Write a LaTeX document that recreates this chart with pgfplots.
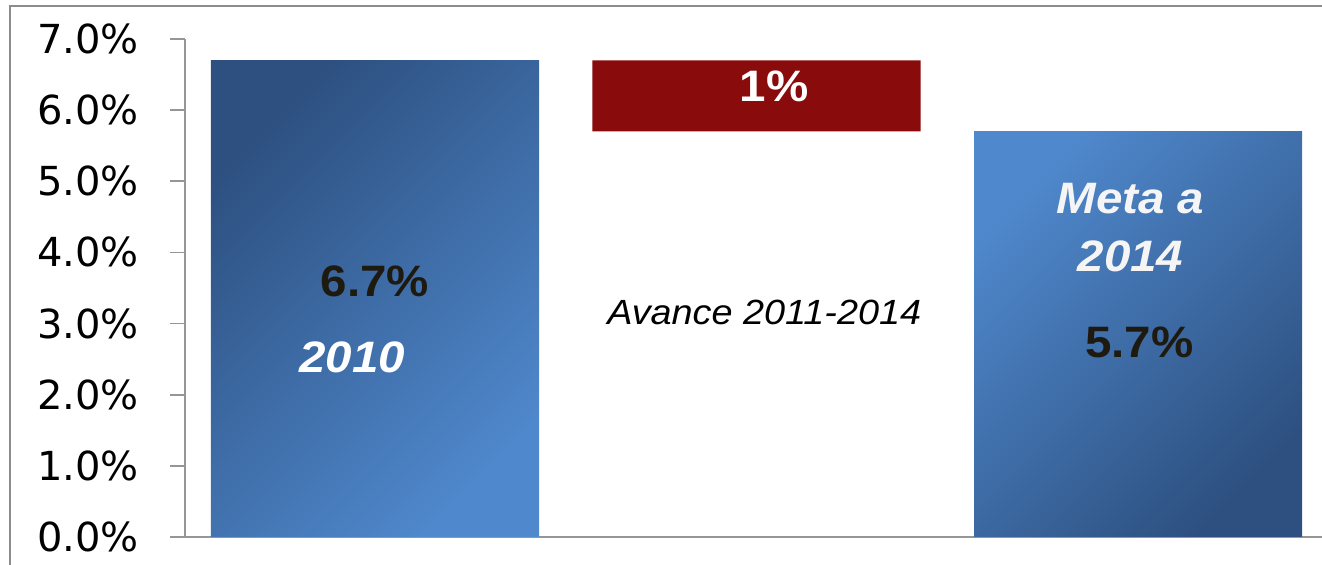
\documentclass[border=0pt]{standalone}
\usepackage{fontspec}
\setmainfont{Liberation Sans}[FakeStretch=1.08]
\newfontfamily\dejavu{DejaVu Sans}
\usepackage{pgfplots}
\pgfplotsset{compat=1.18}
\definecolor{framegray}{RGB}{140,140,140}
\definecolor{axisgray}{RGB}{150,150,150}
\definecolor{bluedark}{RGB}{45,80,128}
\definecolor{bluelight}{RGB}{79,136,204}
\definecolor{barred}{RGB}{138,11,11}
\definecolor{labeldark}{RGB}{30,26,16}

\begin{document}
\begin{tikzpicture}
\useasboundingbox (0,0) rectangle (661pt,282.5pt);
\clip (0,0) rectangle (661pt,282.5pt);
\draw[framegray, line width=1pt] (5pt,-10pt) -- (5pt,279.5pt) -- (680pt,279.5pt);
\begin{axis}[
    at={(92.5pt,14pt)}, anchor=south west,
    scale only axis,
    width=568.5pt, height=249pt,
    ybar, bar width=0.86, bar shift=0pt,
    xmin=-0.498, xmax=2.482,
    ymin=0, ymax=7,
    axis x line*=bottom, axis y line*=left,
    axis line style={axisgray, line width=0.8pt},
    xtick=\empty,
    ytick={0,1,2,3,4,5,6,7},
    yticklabels={0.0\%,1.0\%,2.0\%,3.0\%,4.0\%,5.0\%,6.0\%,7.0\%},
    tick align=outside,
    major tick length=7.5pt,
    tick style={axisgray, line width=0.8pt},
    yticklabel style={font=\dejavu\fontsize{20}{24}\selectfont, text=black, xshift=-12pt},
    clip=false,
]
% 2010
\addplot[draw=none, top color=bluedark, bottom color=bluelight, shading angle=45]
    coordinates {(0,6.7)};
% meta a 2014
\addplot[draw=none, top color=bluelight, bottom color=bluedark, shading angle=45]
    coordinates {(2,5.7)};
% avance 2011-2014: floating bar from 5.7 to 6.7
\addplot[sharp plot, mark=none, draw=none, fill=barred]
    coordinates {(0.57,5.7) (1.43,5.7) (1.43,6.7) (0.57,6.7) (0.57,5.7)};

\node[font=\bfseries\fontsize{22}{26}\selectfont, text=labeldark, inner sep=0]
    at (axis cs:0,3.60) {6.7\%};
\node[font=\bfseries\itshape\fontsize{22}{26}\selectfont, text=white, inner sep=0]
    at (axis cs:-0.06,2.53) {2010};
\node[font=\bfseries\fontsize{22}{26}\selectfont, text=white, inner sep=0]
    at (axis cs:1.046,6.33) {1\%};
\node[font=\itshape\fontsize{17.5}{21}\selectfont, text=black, inner sep=0]
    at (axis cs:1.02,3.16) {Avance 2011-2014};
\node[font=\bfseries\itshape\fontsize{22}{26}\selectfont, text=white!96!black, inner sep=0]
    at (axis cs:1.98,4.75) {Meta a};
\node[font=\bfseries\itshape\fontsize{22}{26}\selectfont, text=white!96!black, inner sep=0]
    at (axis cs:1.98,3.95) {2014};
\node[font=\bfseries\fontsize{22}{26}\selectfont, text=labeldark, inner sep=0]
    at (axis cs:2.003,2.74) {5.7\%};
\end{axis}
\end{tikzpicture}
\end{document}
